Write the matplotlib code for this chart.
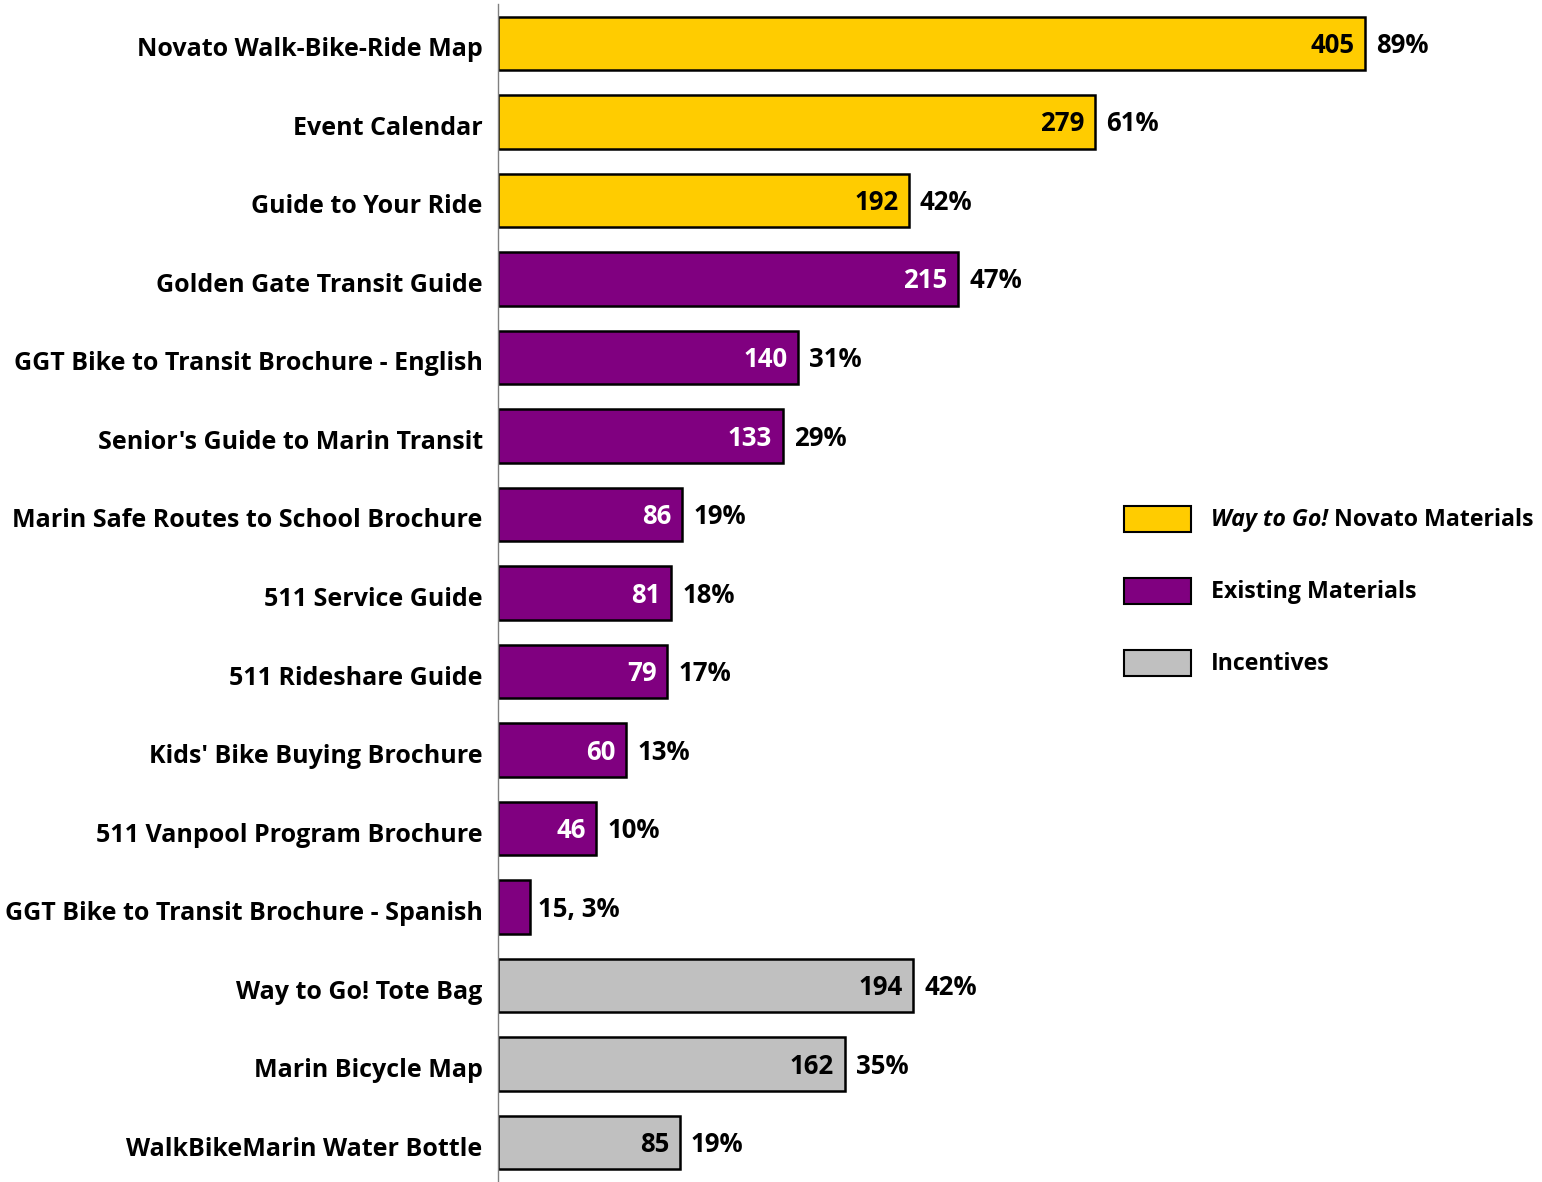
import matplotlib
matplotlib.use("Agg")
import matplotlib.pyplot as plt
from matplotlib.patches import Rectangle
from matplotlib.transforms import ScaledTranslation

plt.rcParams['font.family'] = ['Open Sans', 'DejaVu Sans']

categories = [
    "Novato Walk-Bike-Ride Map",
    "Event Calendar",
    "Guide to Your Ride",
    "Golden Gate Transit Guide",
    "GGT Bike to Transit Brochure - English",
    "Senior's Guide to Marin Transit",
    "Marin Safe Routes to School Brochure",
    "511 Service Guide",
    "511 Rideshare Guide",
    "Kids' Bike Buying Brochure",
    "511 Vanpool Program Brochure",
    "GGT Bike to Transit Brochure - Spanish",
    "Way to Go! Tote Bag",
    "Marin Bicycle Map",
    "WalkBikeMarin Water Bottle",
]
values = [405, 279, 192, 215, 140, 133, 86, 81, 79, 60, 46, 15, 194, 162, 85]
percents = [89, 61, 42, 47, 31, 29, 19, 18, 17, 13, 10, 3, 42, 35, 19]
groups = ["novato"] * 3 + ["existing"] * 9 + ["incentive"] * 3

group_colors = {"novato": "#FFCC00", "existing": "#800080", "incentive": "#C0C0C0"}
inner_text_colors = {"novato": "black", "existing": "white", "incentive": "black"}
legend_labels = [("novato", "Way to Go!", " Novato Materials"),
                 ("existing", "", "Existing Materials"),
                 ("incentive", "", "Incentives")]

W, H = 1542, 1182
fig = plt.figure(figsize=(W / 100, H / 100), dpi=100)
ax = fig.add_axes([498 / W, 0.0, 1 - 498 / W, (H - 4) / H])

n = len(categories)
ypos = list(range(n))
ax.barh(ypos, values, height=0.68,
        color=[group_colors[g] for g in groups],
        edgecolor="black", linewidth=1.8, zorder=2)
ax.set_ylim(n - 0.5, -0.5)
ax.set_xlim(0, 1044 / 2.14)

fs = 18
vfs = 18.5
for i, (v, p, g) in enumerate(zip(values, percents, groups)):
    if v < 30:
        ax.annotate(f"{v}, {p}%", (v, i), xytext=(6, -1.5), textcoords="offset points",
                    ha="left", va="center", fontsize=vfs, fontweight="bold", color="black")
    else:
        ax.annotate(f"{v}", (v, i), xytext=(-7.5, -1.5), textcoords="offset points",
                    ha="right", va="center", fontsize=vfs, fontweight="bold",
                    color=inner_text_colors[g])
        ax.annotate(f"{p}%", (v, i), xytext=(8, -1.5), textcoords="offset points",
                    ha="left", va="center", fontsize=vfs, fontweight="bold", color="black")

ax.set_yticks(ypos)
ax.set_yticklabels(categories, fontsize=fs, fontweight="bold")
ax.tick_params(axis="y", length=0, pad=11)
shift = ScaledTranslation(0, -3.5 / 100, fig.dpi_scale_trans)
for lab in ax.get_yticklabels():
    lab.set_transform(lab.get_transform() + shift)
ax.set_xticks([])
for s in ["top", "right", "bottom"]:
    ax.spines[s].set_visible(False)
ax.spines["left"].set_color("#808080")
ax.spines["left"].set_linewidth(1.0)

# legend drawn manually
fig.canvas.draw()
renderer = fig.canvas.get_renderer()
leg_y = [519, 591, 663]
lfs = 16.7
for (g, ital, rest), yc in zip(legend_labels, leg_y):
    fig.patches.append(Rectangle((1124 / W, 1 - (yc + 13) / H), 67 / W, 26 / H,
                                 transform=fig.transFigure, facecolor=group_colors[g],
                                 edgecolor="black", linewidth=1.5))
    x = 1211 / W
    ty = 1 - (yc + 1) / H
    if ital:
        t = fig.text(x, ty, ital, fontsize=lfs, fontweight="bold",
                     fontstyle="italic", va="center", ha="left")
        bb = t.get_window_extent(renderer)
        x = bb.x1 / W
    fig.text(x, ty, rest, fontsize=lfs, fontweight="bold", va="center", ha="left")

fig.savefig("out.png", dpi=100)
